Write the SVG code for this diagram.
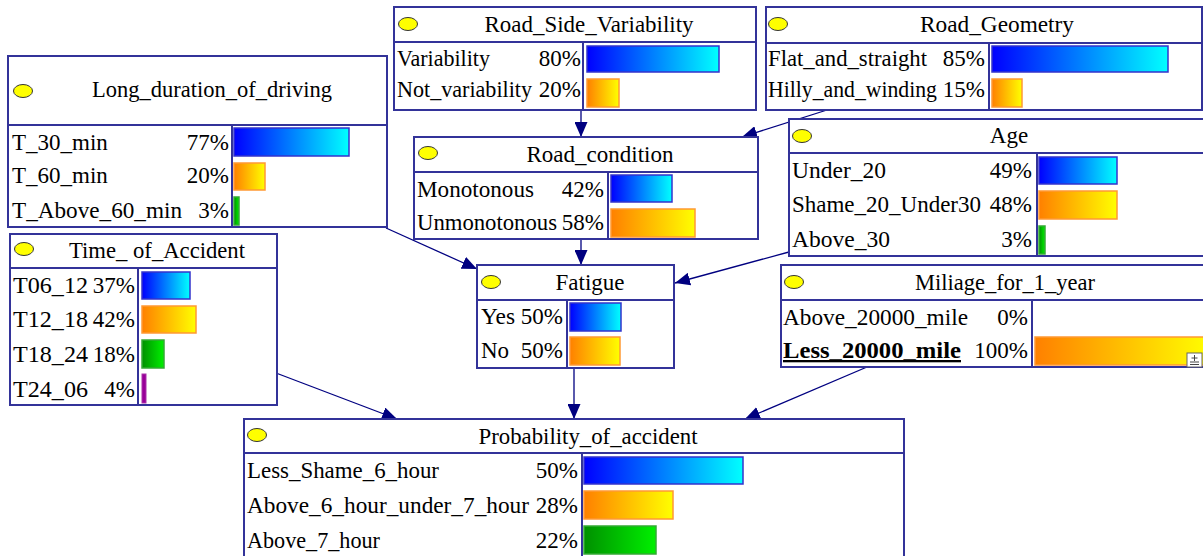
<svg xmlns="http://www.w3.org/2000/svg" width="1203" height="556" viewBox="0 0 1203 556">
<defs>
<linearGradient id="gb" x1="0" y1="0" x2="1" y2="0"><stop offset="0" stop-color="#0000ff"/><stop offset="1" stop-color="#00ffff"/></linearGradient>
<linearGradient id="go" x1="0" y1="0" x2="1" y2="0"><stop offset="0" stop-color="#ff8000"/><stop offset="1" stop-color="#ffff00"/></linearGradient>
<linearGradient id="gg" x1="0" y1="0" x2="1" y2="0"><stop offset="0" stop-color="#009000"/><stop offset="1" stop-color="#00f000"/></linearGradient>
<marker id="ah" viewBox="0 0 15 13" refX="15" refY="6.5" markerWidth="15" markerHeight="13" markerUnits="userSpaceOnUse" orient="auto"><path d="M0,0 L15,6.5 L0,13 z" fill="#000080"/></marker>
<style>
.box{fill:#ffffff;stroke:#333399;stroke-width:2}
.ln{stroke:#333399;stroke-width:2;fill:none}
.el{fill:#ffff00;stroke:#333333;stroke-width:1}
.bb{fill:url(#gb);stroke:#3333cc;stroke-width:1.5}
.bo{fill:url(#go);stroke:#ff9933;stroke-width:1.5}
.bg{fill:url(#gg);stroke:#33aa33;stroke-width:1.5}
.bp{fill:#990099;stroke:#aa33aa;stroke-width:1}
.c{stroke:#000080;stroke-width:1.3;fill:none;marker-end:url(#ah)}
svg text{font-family:"Liberation Serif",serif !important;font-size:23px}
.t{text-anchor:middle}
.p{text-anchor:end}
</style>
</defs>
<g id="connectors">
<line class="c" x1="581" y1="110" x2="581" y2="137"/>
<line class="c" x1="827" y1="110" x2="742" y2="137"/>
<line class="c" x1="581" y1="239" x2="581" y2="265"/>
<line class="c" x1="386" y1="228" x2="477" y2="269"/>
<line class="c" x1="789" y1="252" x2="675" y2="283"/>
<line class="c" x1="574" y1="368" x2="574" y2="419"/>
<line class="c" x1="276" y1="373" x2="397" y2="419"/>
<line class="c" x1="867" y1="367" x2="745" y2="419"/>
</g>
<g id="Long_duration_of_driving">
<rect class="box" x="8" y="56" width="379" height="171"/>
<line class="ln" x1="8" y1="125" x2="387" y2="125"/>
<line class="ln" x1="232" y1="125" x2="232" y2="227"/>
<ellipse class="el" cx="23" cy="91" rx="9.5" ry="6.5"/>
<text class="t" x="212" y="97" textLength="240" lengthAdjust="spacingAndGlyphs">Long_duration_of_driving</text>
<text x="12" y="150">T_30_min</text><text class="p" x="229" y="150">77%</text>
<text x="12" y="183">T_60_min</text><text class="p" x="229" y="183">20%</text>
<text x="12" y="218" textLength="170" lengthAdjust="spacingAndGlyphs">T_Above_60_min</text><text class="p" x="229" y="218">3%</text>
<rect class="bb" x="234" y="128" width="115" height="28"/>
<rect class="bo" x="234" y="163" width="31" height="27"/>
<rect class="bg" x="234" y="197" width="5" height="28"/>
</g>
<g id="Road_Side_Variability">
<rect class="box" x="394" y="7" width="362" height="103"/>
<line class="ln" x1="394" y1="42" x2="756" y2="42"/>
<line class="ln" x1="583" y1="42" x2="583" y2="110"/>
<ellipse class="el" cx="408" cy="24" rx="9.5" ry="6.5"/>
<text class="t" x="589" y="32" textLength="209" lengthAdjust="spacingAndGlyphs">Road_Side_Variability</text>
<text x="397" y="66" textLength="93" lengthAdjust="spacingAndGlyphs">Variability</text><text class="p" x="581" y="66">80%</text>
<text x="397" y="97" textLength="135" lengthAdjust="spacingAndGlyphs">Not_variability</text><text class="p" x="581" y="97">20%</text>
<rect class="bb" x="587" y="46" width="132" height="26"/>
<rect class="bo" x="587" y="79" width="32" height="28"/>
</g>
<g id="Road_Geometry">
<rect class="box" x="766" y="7" width="436" height="103"/>
<line class="ln" x1="766" y1="43" x2="1202" y2="43"/>
<line class="ln" x1="989" y1="43" x2="989" y2="110"/>
<ellipse class="el" cx="778" cy="24" rx="9.5" ry="6.5"/>
<text class="t" x="997" y="32" textLength="154" lengthAdjust="spacingAndGlyphs">Road_Geometry</text>
<text x="768" y="66" textLength="159" lengthAdjust="spacingAndGlyphs">Flat_and_straight</text><text class="p" x="985" y="66">85%</text>
<text x="768" y="97" textLength="169" lengthAdjust="spacingAndGlyphs">Hilly_and_winding</text><text class="p" x="985" y="97">15%</text>
<rect class="bb" x="992" y="46" width="176" height="26"/>
<rect class="bo" x="992" y="79" width="30" height="28"/>
</g>
<g id="Road_condition">
<rect class="box" x="414" y="137" width="344" height="102"/>
<line class="ln" x1="414" y1="172" x2="758" y2="172"/>
<line class="ln" x1="608" y1="172" x2="608" y2="239"/>
<ellipse class="el" cx="428" cy="153" rx="9.5" ry="6.5"/>
<text class="t" x="600" y="162" textLength="147" lengthAdjust="spacingAndGlyphs">Road_condition</text>
<text x="417" y="197" textLength="117" lengthAdjust="spacingAndGlyphs">Monotonous</text><text class="p" x="604" y="197">42%</text>
<text x="417" y="230" textLength="140" lengthAdjust="spacingAndGlyphs">Unmonotonous</text><text class="p" x="604" y="230">58%</text>
<rect class="bb" x="611" y="175" width="61" height="27"/>
<rect class="bo" x="611" y="209" width="84" height="28"/>
</g>
<g id="Age">
<rect class="box" x="789" y="119" width="420" height="137"/>
<line class="ln" x1="789" y1="153" x2="1209" y2="153"/>
<line class="ln" x1="1037" y1="153" x2="1037" y2="256"/>
<ellipse class="el" cx="802" cy="136" rx="9.5" ry="6.5"/>
<text class="t" x="1009" y="143">Age</text>
<text x="792" y="178" textLength="94" lengthAdjust="spacingAndGlyphs">Under_20</text><text class="p" x="1032" y="178">49%</text>
<text x="792" y="212" textLength="189" lengthAdjust="spacingAndGlyphs">Shame_20_Under30</text><text class="p" x="1032" y="212">48%</text>
<text x="792" y="247" textLength="98" lengthAdjust="spacingAndGlyphs">Above_30</text><text class="p" x="1032" y="247">3%</text>
<rect class="bb" x="1039" y="157" width="78" height="27"/>
<rect class="bo" x="1039" y="191" width="78" height="28"/>
<rect class="bg" x="1039" y="226" width="6" height="28"/>
</g>
<g id="Time_of_Accident">
<rect class="box" x="10" y="234" width="267" height="171"/>
<line class="ln" x1="10" y1="268" x2="277" y2="268"/>
<line class="ln" x1="138" y1="268" x2="138" y2="405"/>
<ellipse class="el" cx="24" cy="249" rx="9.5" ry="6.5"/>
<text class="t" x="157" y="258" textLength="176" lengthAdjust="spacingAndGlyphs">Time_ of_Accident</text>
<text x="13" y="293" textLength="75" lengthAdjust="spacingAndGlyphs">T06_12</text><text class="p" x="135" y="293">37%</text>
<text x="13" y="327" textLength="75" lengthAdjust="spacingAndGlyphs">T12_18</text><text class="p" x="135" y="327">42%</text>
<text x="13" y="362" textLength="75" lengthAdjust="spacingAndGlyphs">T18_24</text><text class="p" x="135" y="362">18%</text>
<text x="13" y="397" textLength="75" lengthAdjust="spacingAndGlyphs">T24_06</text><text class="p" x="135" y="397">4%</text>
<rect class="bb" x="142" y="272" width="48" height="27"/>
<rect class="bo" x="142" y="306" width="54" height="27"/>
<rect class="bg" x="142" y="340" width="22" height="28"/>
<rect class="bp" x="142" y="374" width="4" height="29"/>
</g>
<g id="Fatigue">
<rect class="box" x="477" y="265" width="197" height="103"/>
<line class="ln" x1="477" y1="300" x2="674" y2="300"/>
<line class="ln" x1="567" y1="300" x2="567" y2="368"/>
<ellipse class="el" cx="491" cy="282" rx="9.5" ry="6.5"/>
<text class="t" x="590" y="290">Fatigue</text>
<text x="481" y="324" textLength="34" lengthAdjust="spacingAndGlyphs">Yes</text><text class="p" x="563" y="324">50%</text>
<text x="481" y="358">No</text><text class="p" x="563" y="358">50%</text>
<rect class="bb" x="570" y="303" width="51" height="28"/>
<rect class="bo" x="570" y="337" width="50" height="28"/>
</g>
<g id="Miliage_for_1_year">
<rect class="box" x="781" y="265" width="430" height="102"/>
<line class="ln" x1="781" y1="300" x2="1211" y2="300"/>
<line class="ln" x1="1032" y1="300" x2="1032" y2="367"/>
<ellipse class="el" cx="794" cy="282" rx="9.5" ry="6.5"/>
<text class="t" x="1005" y="290" textLength="180" lengthAdjust="spacingAndGlyphs">Miliage_for_1_year</text>
<text x="783" y="325" textLength="185" lengthAdjust="spacingAndGlyphs">Above_20000_mile</text><text class="p" x="1028" y="325">0%</text>
<text x="783" y="358" font-weight="bold" text-decoration="underline" textLength="178" lengthAdjust="spacingAndGlyphs">Less_20000_mile</text><text class="p" x="1028" y="358">100%</text>
<rect class="bo" x="1035" y="337" width="175" height="28"/>
<rect x="1187" y="353" width="15" height="14" fill="#ffffff" stroke="#666666" stroke-width="1"/>
<path d="M1194.5,355 v6 M1191.5,358 h6 M1190,362 h9 M1190,364.5 h9" stroke="#444444" stroke-width="1" fill="none"/>
</g>
<g id="Probability_of_accident">
<rect class="box" x="244" y="419" width="660" height="141"/>
<line class="ln" x1="244" y1="453" x2="904" y2="453"/>
<line class="ln" x1="582" y1="453" x2="582" y2="560"/>
<ellipse class="el" cx="257" cy="435" rx="9.5" ry="6.5"/>
<text class="t" x="588" y="444" textLength="219" lengthAdjust="spacingAndGlyphs">Probability_of_accident</text>
<text x="247" y="478" textLength="192" lengthAdjust="spacingAndGlyphs">Less_Shame_6_hour</text><text class="p" x="578" y="478">50%</text>
<text x="247" y="513" textLength="282" lengthAdjust="spacingAndGlyphs">Above_6_hour_under_7_hour</text><text class="p" x="578" y="513">28%</text>
<text x="247" y="548" textLength="133" lengthAdjust="spacingAndGlyphs">Above_7_hour</text><text class="p" x="578" y="548">22%</text>
<rect class="bb" x="584" y="457" width="159" height="27"/>
<rect class="bo" x="584" y="491" width="89" height="28"/>
<rect class="bg" x="584" y="526" width="72" height="28"/>
</g>
</svg>
